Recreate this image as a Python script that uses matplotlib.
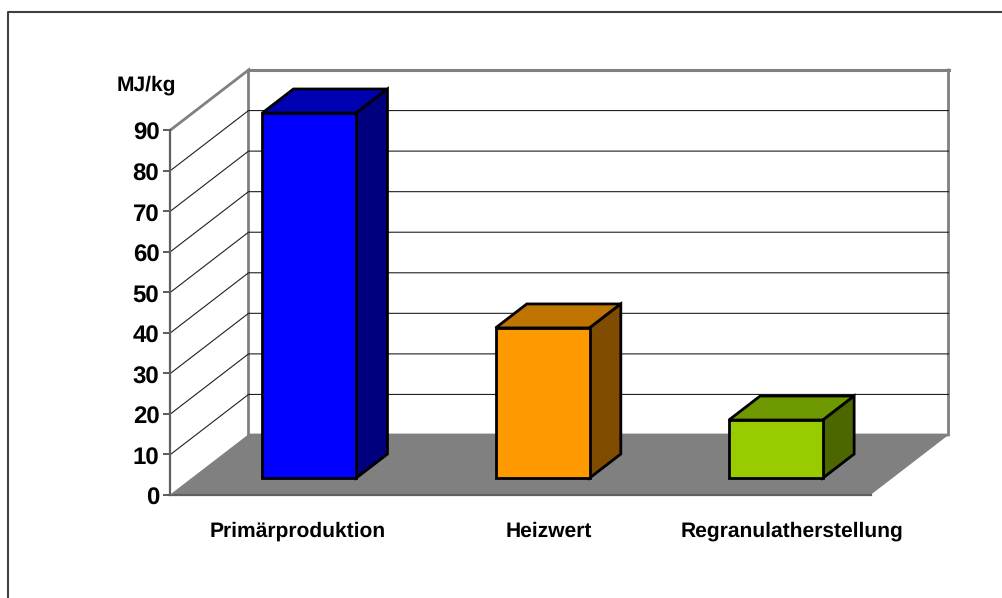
import matplotlib
matplotlib.use("Agg")
import matplotlib.pyplot as plt
from matplotlib.lines import Line2D
from matplotlib.patches import Polygon
from matplotlib.transforms import ScaledTranslation

plt.rcParams["font.family"] = ["Liberation Sans", "DejaVu Sans"]
plt.rcParams["font.weight"] = "bold"
plt.rcParams["text.hinting"] = "none"
plt.rcParams["text.hinting_factor"] = 1

categories = ["Primärproduktion", "Heizwert", "Regranulatherstellung"]
values = [90, 37, 14.3]
front_colors = ["#0000ff", "#ff9900", "#99cc00"]
top_colors = ["#0000b3", "#bf7300", "#6f9900"]
side_colors = ["#00007f", "#7f4c00", "#4c6600"]
y_ticks = list(range(0, 100, 10))

W, H = 1003, 598

# oblique depth of the chart box, in data units
depth_x = 78 / (700 / 3)
depth_y = 60 / (365 / 90)
# where the bars sit inside that depth
bar_start = 17 / 60
bar_depth = 24 / 60
bar_width = 94 / (700 / 3)
# labels are not centred on their bars in the original
label_shift = [11, 28, 38]

fig = plt.figure(figsize=(W / 100, H / 100), dpi=100)

# outer frame, open at the right and the bottom
fig.add_artist(Line2D([8.5 / W, 8.5 / W, 1], [0, 1 - 12 / H, 1 - 12 / H],
                      color="#404040", lw=1.5))

ax = fig.add_axes([170.5 / W, (H - 495) / H, 700 / W, 365 / H])
ax.set_xlim(0, 3)
ax.set_ylim(0, 90)
ax.patch.set_visible(False)
for s in ["top", "right", "bottom"]:
    ax.spines[s].set_visible(False)
ax.spines["left"].set_color("#606060")
ax.spines["left"].set_linewidth(1.6)

ax.set_yticks(y_ticks)
ax.tick_params(axis="y", length=5, width=1.2, color="#404040", pad=3,
               labelsize=17.5)
ax.set_xticks([])
# nudge the numbers down a little to sit level with their ticks
nudge = ScaledTranslation(0, -1.5 / 100, fig.dpi_scale_trans)
for lab in ax.get_yticklabels():
    lab.set_transform(lab.get_transform() + nudge)

# floor
ax.add_patch(Polygon([(0, 0), (3, 0), (3 + depth_x, depth_y), (depth_x, depth_y)],
                     closed=True, facecolor="#808080", edgecolor="none",
                     clip_on=False, zorder=1))
ax.plot([0, 3], [0, 0], color="#606060", lw=1.6, clip_on=False, zorder=1.5)

# walls
ax.plot([0, depth_x, depth_x, 3 + depth_x, 3 + depth_x],
        [90, 90 + depth_y, depth_y, depth_y, 90 + depth_y],
        color="#808080", lw=2.0, clip_on=False, zorder=2, solid_joinstyle="miter")
ax.plot([depth_x, 3 + depth_x], [90 + depth_y, 90 + depth_y],
        color="#808080", lw=2.2, clip_on=False, zorder=2)

# grid lines on both walls
for v in y_ticks[1:-1]:
    ax.plot([0, depth_x, 3 + depth_x], [v, v + depth_y, v + depth_y],
            color="#202020", lw=0.8, clip_on=False, zorder=2)
ax.plot([0, depth_x], [0, depth_y], color="#808080", lw=0.8, clip_on=False, zorder=2)

# 3D bars
off_x = depth_x * bar_start
off_y = depth_y * bar_start
dx = depth_x * bar_depth
dy = depth_y * bar_depth
for i, v in enumerate(values):
    left = i + 0.5 - bar_width / 2 + off_x
    right = left + bar_width
    top = off_y + v
    ax.add_patch(Polygon([(left, top), (right, top), (right + dx, top + dy), (left + dx, top + dy)],
                         closed=True, facecolor=top_colors[i], edgecolor="black",
                         lw=2.0, clip_on=False, zorder=3, joinstyle="miter"))
    ax.add_patch(Polygon([(right, off_y), (right + dx, off_y + dy), (right + dx, top + dy), (right, top)],
                         closed=True, facecolor=side_colors[i], edgecolor="black",
                         lw=2.0, clip_on=False, zorder=3, joinstyle="miter"))
    ax.bar(i + 0.5 + off_x, v, width=bar_width, bottom=off_y, color=front_colors[i],
           edgecolor="black", linewidth=2.0, zorder=4, clip_on=False)

# category labels
for i, name in enumerate(categories):
    ax.annotate(name, xy=(i + 0.5, 0), xytext=(label_shift[i], -36), textcoords="offset pixels",
                ha="center", va="center", fontsize=15.4, annotation_clip=False)

ax.annotate("MJ/kg", xy=(0, 90), xytext=(6, 45), textcoords="offset pixels",
            ha="right", va="center", fontsize=15.4, annotation_clip=False)

fig.savefig("out.png", dpi=100, facecolor="white")
